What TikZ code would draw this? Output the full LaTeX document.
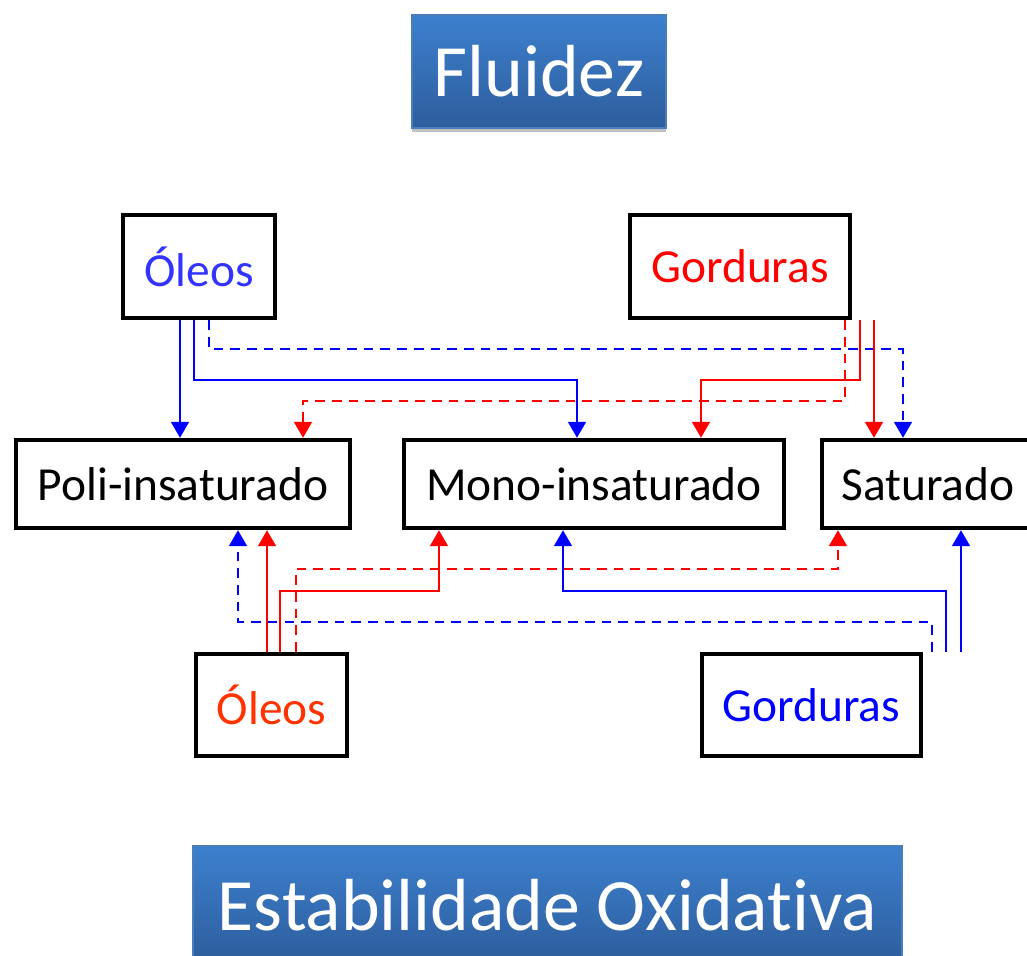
\documentclass[tikz,border=0pt]{standalone}
\usepackage{fontspec}
\setmainfont[Ligatures=NoCommon]{Carlito}
\usetikzlibrary{arrows.meta,shadows}
\definecolor{titletop}{HTML}{3D80CE}
\definecolor{titlebot}{HTML}{2D5D9C}
\definecolor{titleedge}{HTML}{4A7EBB}
\definecolor{lineblue}{HTML}{0000FF}
\definecolor{linered}{HTML}{FF0000}
\definecolor{oleotop}{HTML}{3333FF}
\definecolor{oleobot}{HTML}{FF3300}

\begin{document}
\begin{tikzpicture}[x=0.02cm, y=-0.02cm,
  box/.style 2 args={rectangle, draw, line width=2.5pt, inner sep=0pt, minimum width=#1*0.02cm, minimum height=#2*0.02cm, font=\fontsize{27}{32}\selectfont},
  titlebox/.style 2 args={rectangle, draw=titleedge, line width=0.6pt, top color=titletop, bottom color=titlebot, text=white, minimum width=#1*0.02cm, minimum height=#2*0.02cm, font=\fontsize{42}{50}\selectfont,
    drop shadow={shadow xshift=0pt, shadow yshift=-2.5pt, fill=black!30, opacity=0.8}},
  arr/.style={line width=1.4pt, -{Triangle[length=9pt,width=10pt]}},
  dsh/.style={dash pattern=on 5.5pt off 4pt}
]
  \useasboundingbox (0,0) rectangle (1027,956);

  \node[titlebox={254}{113}] (fl) at (539,71.5) {Fluidez};
  \node[titlebox={709}{118}] (eo) at (547.5,905) {Estabilidade Oxidativa};

  \node[box={152}{103}, text=oleotop]  (ot) at (199,266.5) {Óleos};
  \node[box={220}{103}, text=linered]  (gt) at (740,266.5) {Gorduras};
  \node[box={334}{88}]                 (poli) at (183,484) {Poli-insaturado};
  \node[box={380}{88}]                 (mono) at (594,484) {Mono-insaturado};
  \node[box={212}{88}]                 (sat) at (928,484) {Saturado};
  \node[box={151}{102}, text=oleobot]  (ob) at (271.5,705) {Óleos};
  \node[box={219}{102}, text=lineblue] (gb) at (811.5,705) {Gorduras};

  % fluidez
  \draw[arr, lineblue] (ot.south -| 180,0) -- (poli.north -| 180,0);
  \draw[arr, lineblue] (ot.south -| 194,0) |- (577,380) -- (mono.north -| 577,0);
  \draw[arr, lineblue, dsh] (ot.south -| 209,0) |- (903,349) -- (sat.north -| 903,0);
  \draw[arr, linered, dsh] (gt.south -| 845,0) |- (303,401) -- (poli.north -| 303,0);
  \draw[arr, linered] (gt.south -| 860,0) |- (701,380) -- (mono.north -| 701,0);
  \draw[arr, linered] (gt.south -| 874,0) -- (sat.north -| 874,0);

  % estabilidade oxidativa
  \draw[arr, linered] (ob.north -| 267,0) -- (poli.south -| 267,0);
  \draw[arr, linered] (ob.north -| 280,0) |- (439,591) -- (mono.south -| 439,0);
  \draw[arr, linered, dsh] (ob.north -| 296,0) |- (838,569) -- (sat.south -| 838,0);
  \draw[arr, lineblue, dsh] (gb.north -| 932,0) |- (238,622) -- (poli.south -| 238,0);
  \draw[arr, lineblue] (gb.north -| 946,0) |- (563,591) -- (mono.south -| 563,0);
  \draw[arr, lineblue] (gb.north -| 961,0) -- (sat.south -| 961,0);
\end{tikzpicture}
\end{document}
